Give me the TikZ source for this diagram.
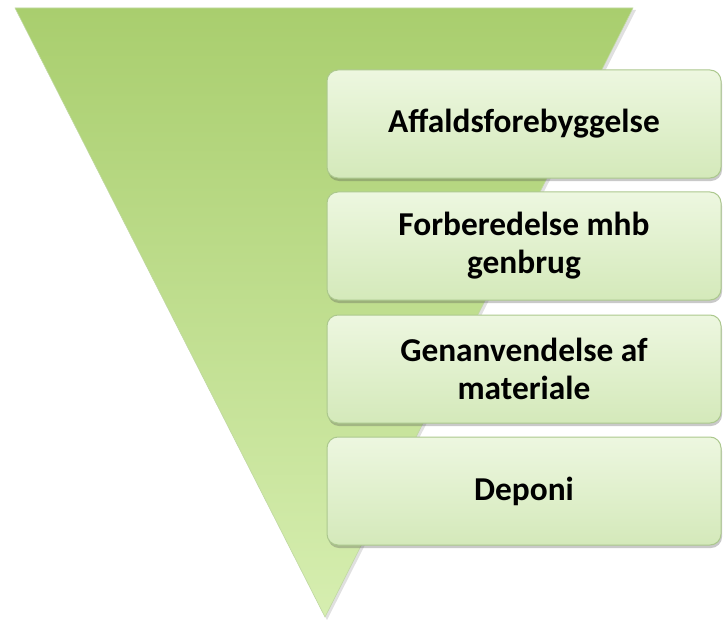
\documentclass[tikz,border=0pt]{standalone}
\usepackage{fontspec}
\setmainfont{Carlito}
\usetikzlibrary{shadows}
\definecolor{triTop}{RGB}{169,206,110}
\definecolor{triBot}{RGB}{214,238,176}
\definecolor{triEdge}{RGB}{150,190,100}
\definecolor{boxTop}{RGB}{237,247,224}
\definecolor{boxBot}{RGB}{212,233,186}
\definecolor{boxLine}{RGB}{172,200,142}
\begin{document}
\begin{tikzpicture}[x=1bp,y=-1bp,
  stagebox/.style={draw=boxLine, line width=1bp, rounded corners=11bp,
    top color=boxTop, bottom color=boxBot,
    minimum width=394bp, minimum height=108bp,
    align=center, inner sep=0pt,
    font=\bfseries\fontsize{33.5}{38}\selectfont,
    drop shadow={shadow xshift=1bp, shadow yshift=-3bp, opacity=0.3, fill=black!70}}
]
\useasboundingbox (0,0) rectangle (724,624);
% funnel triangle
\fill[black, opacity=0.12] (17,10) -- (636,10) -- (327,620) -- cycle;
\path[top color=triTop, bottom color=triBot, draw=triEdge!60, line width=0.6bp]
  (15,8) -- (633,8) -- (325,617) -- cycle;
% stages
\node[stagebox] (s1) at (524,124) {Affaldsforebyggelse};
\node[stagebox] (s2) at (524,246) {Forberedelse mhb\\genbrug};
\node[stagebox] (s3) at (524,369) {Genanvendelse af\\materiale};
\node[stagebox] (s4) at (524,491) {Deponi};
\end{tikzpicture}
\end{document}
